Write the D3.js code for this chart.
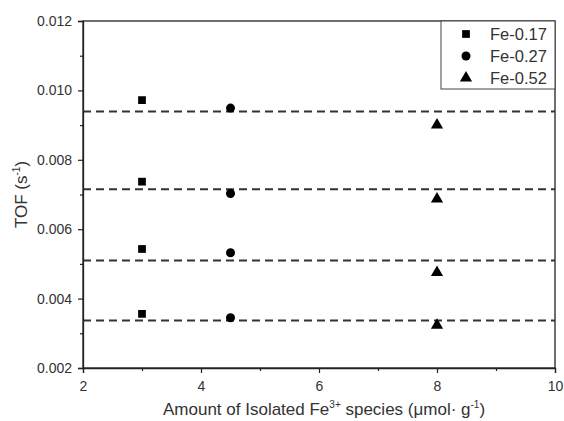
<!DOCTYPE html>
<html>
<head>
<meta charset="utf-8">
<script src="https://cdn.jsdelivr.net/npm/d3@7"></script>
<style>
  body { margin: 0; background: #fff; }
  text { font-family: Arial, "Liberation Sans", sans-serif; fill: #333; }
</style>
</head>
<body>
<script>
// data
var seriesNames = ["Fe-0.17", "Fe-0.27", "Fe-0.52"];
var seriesX = [3, 4.5, 8];
var seriesTOF = [
  [0.00972, 0.00737, 0.00543, 0.00356],
  [0.00949, 0.00703, 0.00532, 0.00345],
  [0.00900, 0.00687, 0.00475, 0.00323]
];
var refLines = [0.00939, 0.00715, 0.00510, 0.00337];
var xTicks = [2, 4, 6, 8, 10];
var yTicks = [0.002, 0.004, 0.006, 0.008, 0.010, 0.012];

var width = 564, height = 421;
var margin = {top: 21, right: 9, bottom: 53, left: 83};

var x = d3.scaleLinear().domain([2, 10]).range([margin.left, width - margin.right]);
var y = d3.scaleLinear().domain([0.002, 0.012]).range([height - margin.bottom, margin.top]);

var svg = d3.select("body").append("svg")
  .attr("width", width)
  .attr("height", height);

// frame
svg.append("rect")
  .attr("x", x(2)).attr("y", y(0.012))
  .attr("width", x(10) - x(2)).attr("height", y(0.002) - y(0.012))
  .style("fill", "none").style("stroke", "#222").style("stroke-width", 1.3);

// dashed reference lines
svg.append("g").selectAll("line")
  .data(refLines).enter().append("line")
  .attr("x1", x(2)).attr("x2", x(10))
  .attr("y1", d => y(d)).attr("y2", d => y(d))
  .style("stroke", "#333").style("stroke-width", 2)
  .style("stroke-dasharray", "8,5");

// axes
svg.append("g")
  .attr("transform", `translate(0,${y(0.002)})`)
  .call(d3.axisBottom(x).tickValues(xTicks).tickSize(5).tickPadding(8).tickFormat(d3.format("d")));
svg.append("g")
  .attr("transform", `translate(0,${y(0.002)})`)
  .call(d3.axisBottom(x).tickValues([3, 5, 7, 9]).tickSize(3).tickFormat(""))
  .call(g => g.select(".domain").remove());

svg.append("g")
  .attr("transform", `translate(${x(2)},0)`)
  .call(d3.axisLeft(y).tickValues(yTicks).tickSize(5).tickPadding(6).tickFormat(d3.format(".3f")));
svg.append("g")
  .attr("transform", `translate(${x(2)},0)`)
  .call(d3.axisLeft(y).tickValues([0.003, 0.005, 0.007, 0.009, 0.011]).tickSize(3).tickFormat(""))
  .call(g => g.select(".domain").remove());

svg.selectAll(".tick line").style("stroke", "#222").style("stroke-width", 1.2);
svg.selectAll(".domain").style("stroke", "#222").style("stroke-width", 1.3);
svg.selectAll(".tick text").style("font-size", "14px").style("fill", "#333")
  .style("font-family", "Arial, 'Liberation Sans', sans-serif");

// markers
var symbols = [d3.symbolSquare, d3.symbolCircle, d3.symbolTriangle];
var symSizes = [60, 64, 64];

seriesNames.forEach(function(name, s) {
  svg.append("g").selectAll("path")
    .data(seriesTOF[s]).enter().append("path")
    .attr("d", d3.symbol().type(symbols[s]).size(symSizes[s]))
    .attr("transform", d => `translate(${x(seriesX[s])},${y(d)})`)
    .style("fill", "#000");
});

// legend
var legend = svg.append("g");
legend.append("rect")
  .attr("x", 441).attr("y", y(0.012))
  .attr("width", x(10) - 441).attr("height", 68)
  .style("fill", "#fff").style("stroke", "#444").style("stroke-width", 1);
seriesNames.forEach(function(name, s) {
  var ly = 34 + s * 22;
  legend.append("path")
    .attr("d", d3.symbol().type(symbols[s]).size(symSizes[s]))
    .attr("transform", `translate(466,${ly})`)
    .style("fill", "#000");
  legend.append("text")
    .attr("x", 490).attr("y", ly)
    .attr("dominant-baseline", "central")
    .style("font-size", "16.5px")
    .text(name);
});

// axis titles
var xt = svg.append("text")
  .attr("x", 163).attr("y", 415)
  .attr("text-anchor", "start")
  .style("font-size", "17px");
xt.append("tspan").text("Amount of Isolated Fe");
xt.append("tspan").attr("dy", -7).style("font-size", "10px").text("3+");
xt.append("tspan").attr("dy", 7).text(" species (\u03bcmol\u00b7 g");
xt.append("tspan").attr("dy", -7).style("font-size", "10px").text("-1");
xt.append("tspan").attr("dy", 7).text(")");

var yt = svg.append("text")
  .attr("transform", `translate(27,${(y(0.002) + y(0.012)) / 2}) rotate(-90)`)
  .attr("text-anchor", "middle")
  .style("font-size", "17px");
yt.append("tspan").text("TOF (s");
yt.append("tspan").attr("dy", -7).style("font-size", "10px").text("-1");
yt.append("tspan").attr("dy", 7).text(")");
</script>
</body>
</html>
